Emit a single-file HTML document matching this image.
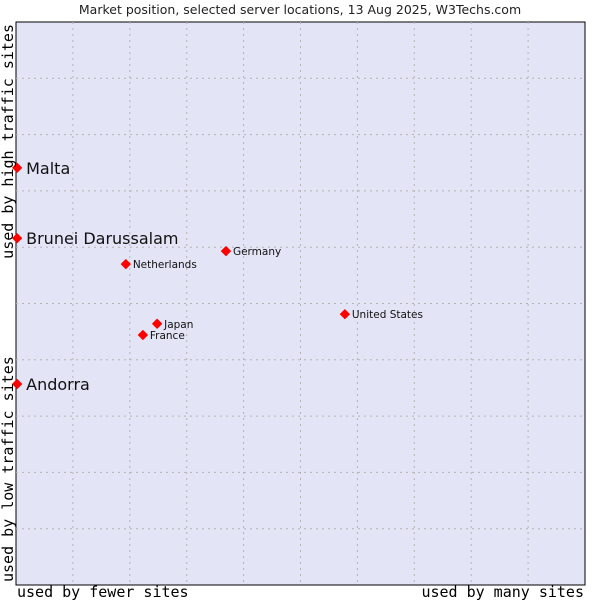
<!DOCTYPE html>
<html><head><meta charset="utf-8"><style>
body{margin:0;background:#fff;width:600px;height:600px;overflow:hidden}
svg{display:block}
</style></head><body>
<svg id="chart" width="600" height="600">
<text x="300" y="14" text-anchor="middle" font-family="DejaVu Sans, sans-serif" font-size="12.5" fill="#222">Market position, selected server locations, 13 Aug 2025, W3Techs.com</text>
<rect x="16" y="22" width="569" height="563" fill="#e3e5f7" stroke="#000" stroke-width="1"/>
<g id="grid"></g>
<g id="marks"></g>
<text x="17" y="597" font-family="DejaVu Sans Mono, Liberation Mono, monospace" font-size="15" fill="#000">used by fewer sites</text>
<text x="584" y="597" text-anchor="end" font-family="DejaVu Sans Mono, Liberation Mono, monospace" font-size="15" fill="#000">used by many sites</text>
<text transform="translate(13,582) rotate(-90)" font-family="DejaVu Sans Mono, Liberation Mono, monospace" font-size="15" fill="#000">used by low traffic sites</text>
<text transform="translate(13,24) rotate(-90)" text-anchor="end" font-family="DejaVu Sans Mono, Liberation Mono, monospace" font-size="15" fill="#000">used by high traffic sites</text>
</svg>
<script>
const names = ["Malta","Brunei Darussalam","Andorra","Germany","Netherlands","United States","Japan","France"];
const xVals = [0.2,0.2,0.2,36.9,19.3,57.8,24.8,22.3];
const yVals = [74.1,61.6,35.7,59.3,57.0,48.1,46.4,44.4];
const big = [true,true,true,false,false,false,false,false];
const gridTicks = [10,20,30,40,50,60,70,80,90];
const X0=16,X1=585,Y0=585,Y1=22;
const sx=v=>X0+(X1-X0)*v/100;
const sy=v=>Y0-(Y0-Y1)*v/100;
const NS="http://www.w3.org/2000/svg";
const grid=document.getElementById('grid');
gridTicks.forEach(t=>{
  const v=document.createElementNS(NS,'line');
  v.setAttribute('x1',sx(t));v.setAttribute('x2',sx(t));v.setAttribute('y1',Y1);v.setAttribute('y2',Y0);
  v.setAttribute('stroke','#b4b4b4');v.setAttribute('stroke-dasharray','2,4');
  
  
  grid.appendChild(v);
  const h=document.createElementNS(NS,'line');
  h.setAttribute('y1',sy(t));h.setAttribute('y2',sy(t));h.setAttribute('x1',X0);h.setAttribute('x2',X1);
  h.setAttribute('stroke','#b4b4b4');h.setAttribute('stroke-dasharray','2,4');
  
  
  grid.appendChild(h);
});
const marks=document.getElementById('marks');
names.forEach((n,i)=>{
  const x=sx(xVals[i]),y=sy(yVals[i]);
  const p=document.createElementNS(NS,'polygon');
  p.setAttribute('points',`${x},${y-4.5} ${x+4.5},${y} ${x},${y+4.5} ${x-4.5},${y}`);
  p.setAttribute('fill','#f00');
  p.setAttribute('stroke','#f00');
  p.setAttribute('stroke-linejoin','round');
  
  
  marks.appendChild(p);
  const t=document.createElementNS(NS,'text');
  t.setAttribute('x',x+(big[i]?9:7));
  t.setAttribute('y',y+(big[i]?6:4));
  t.setAttribute('font-family','DejaVu Sans, sans-serif');
  t.setAttribute('font-size',big[i]?'16':'10.5');
  t.setAttribute('fill','#111');
  t.textContent=n;
  
  
  marks.appendChild(t);
});
</script>
</body></html>
